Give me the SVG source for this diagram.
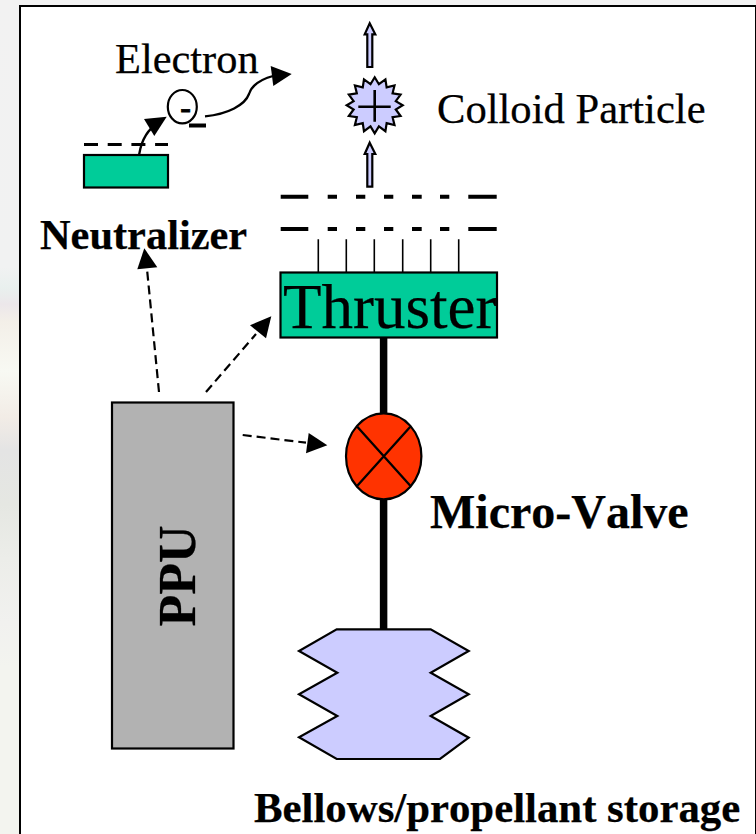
<svg xmlns="http://www.w3.org/2000/svg" width="756" height="834" viewBox="0 0 756 834">
<style>
.t{font-family:"Liberation Serif","Times New Roman",serif;fill:#000;font-kerning:none;stroke:#000;stroke-width:.25}
.b{font-weight:bold}
.dash{fill:none;stroke:#000;stroke-width:2.2;stroke-dasharray:9 5}
.solid{fill:none;stroke:#000;stroke-width:2.3}
.head{fill:#000;stroke:none}
.green{fill:#00cc99;stroke:#000;stroke-width:2.2}
.lav{fill:#ccccff;stroke:#000;stroke-width:2.2}
.bar{stroke:#000;stroke-width:4;fill:none}
.stem{stroke:#000;stroke-width:7.5;fill:none}
</style>
<defs>
<linearGradient id="strip" gradientUnits="userSpaceOnUse" x1="0" y1="0" x2="0" y2="834">
<stop offset="0" stop-color="#f2f2f2"/>
<stop offset=".32" stop-color="#f1f2f2"/>
<stop offset=".345" stop-color="#e9f0ee"/>
<stop offset=".365" stop-color="#ece7ea"/>
<stop offset=".385" stop-color="#f3efe8"/>
<stop offset=".445" stop-color="#f8f9f3"/>
<stop offset=".5" stop-color="#f2ece6"/>
<stop offset=".54" stop-color="#e4e4e4"/>
<stop offset=".605" stop-color="#e5e7e2"/>
<stop offset=".67" stop-color="#ecede9"/>
<stop offset=".745" stop-color="#f1f1ef"/>
<stop offset=".8" stop-color="#f3f4ef"/>
<stop offset="1" stop-color="#f3f4ef"/>
</linearGradient>
</defs>
<rect id="background" width="756" height="834" fill="#f2f2f2"/>
<rect id="left-strip" width="20" height="834" fill="url(#strip)"/>
<rect id="panel" x="20" y="6" width="735" height="828" fill="#fff"/>
<path id="frame" d="M20 834V6H756" fill="none" stroke="#000" stroke-width="2"/>
<path id="frame-right" d="M755.5 6V834" fill="none" stroke="#000" stroke-width="1"/>

<g id="connectors">
<path class="stem" d="M383.6 338V413M383.6 500V630"/>
<path class="solid" d="M138.5 160C140 142 146 132 155 125"/>
<polygon class="head" points="166.7,116.7 144,119 154.3,136"/>
<path class="solid" d="M205 116.3C228 114 245 105 249 94C252 85 262 79 273 76"/>
<polygon class="head" points="291.7,74 270.7,66 273.3,86"/>
<path class="dash" d="M159 392L147 269"/>
<polygon class="head" points="144.3,248.3 137.3,269.3 157.3,267.3"/>
<path class="dash" d="M206 392L256 334"/>
<polygon class="head" points="271.3,316.3 250,325.3 266,338.3"/>
<path class="dash" d="M242.7 435L306 442.7"/>
<polygon class="head" points="327.3,445.3 308.7,433 306,453.3"/>
</g>

<g id="neutralizer">
<rect class="green" x="84" y="155" width="84" height="32.5"/>
<path d="M84 144.5H168" fill="none" stroke="#000" stroke-width="3" stroke-dasharray="14 9.7"/>
<text class="t b" x="40" y="248.5" font-size="42.4">Neutralizer</text>
</g>

<g id="electron">
<ellipse cx="182.3" cy="106.7" rx="14.5" ry="16.7" fill="#fff" stroke="#000" stroke-width="2.2"/>
<text x="180.2" y="118" font-size="32" font-weight="bold" font-family="Liberation Serif, serif" stroke="#000" stroke-width=".8">-</text>
<path class="bar" d="M189 125.5H206"/>
<text class="t" x="115" y="73" font-size="42.4">Electron</text>
</g>

<g id="colloid-particle">
<polygon class="lav" transform="translate(374.7 105.3)" points="0,-28 4.19,-21.09 10.72,-25.87 11.95,-17.87 19.8,-19.8 17.87,-11.95 25.87,-10.72 21.09,-4.19 28,0 21.09,4.19 25.87,10.72 17.87,11.95 19.8,19.8 11.95,17.87 10.72,25.87 4.19,21.09 0,28 -4.19,21.09 -10.72,25.87 -11.95,17.87 -19.8,19.8 -17.87,11.95 -25.87,10.72 -21.09,4.19 -28,0 -21.09,-4.19 -25.87,-10.72 -17.87,-11.95 -19.8,-19.8 -11.95,-17.87 -10.72,-25.87 -4.19,-21.09"/>
<path d="M358.3 106.7H390.7M374.7 90V121.7" fill="none" stroke="#000" stroke-width="2.6"/>
<text class="t" x="437" y="123" font-size="42.6">Colloid Particle</text>
<polygon class="lav" points="369.7,23.3 375.3,34.3 372.3,34.3 372.3,67 367.3,67 367.3,34.3 364.7,34.3"/>
<polygon class="lav" points="369.7,142.7 375.3,154 372.3,154 372.3,186.7 367.3,186.7 367.3,154 364.7,154"/>
</g>

<g id="grids">
<path class="bar" d="M280.7 196.7H308.3M327.7 196.7H337M356 196.7H365.3M384 196.7H393.3M412 196.7H421.7M440 196.7H449.3M468.3 196.7H496.7"/>
<path class="bar" d="M280.7 229H308.3M327.7 229H337M356 229H365.3M384 229H393.3M412 229H421.7M440 229H449.3M468.3 229H496.7"/>
<path d="M318.3 239.3V272M346.3 239.3V272M374.3 239.3V272M402.7 239.3V272M430.7 239.3V272M458.7 239.3V272" fill="none" stroke="#000" stroke-width="1.6"/>
</g>

<g id="thruster">
<rect class="green" x="280.5" y="272.5" width="216.5" height="65"/>
<text class="t" x="283" y="328" font-size="63">Thruster</text>
</g>

<g id="ppu">
<rect x="112" y="402.5" width="121.5" height="346" fill="#b2b2b2" stroke="#000" stroke-width="2.2"/>
<text class="t b" transform="translate(194.5 626.5) rotate(-90)" font-size="52">PPU</text>
</g>

<g id="micro-valve">
<ellipse cx="383.7" cy="456.3" rx="37.7" ry="43" fill="#ff3300" stroke="#000" stroke-width="2.2"/>
<path class="solid" d="M357.3 426.7L410.3 485.7M410.3 426.7L357.3 485.7"/>
<text class="t b" x="430" y="528" font-size="48">Micro-Valve</text>
</g>

<g id="bellows">
<polygon class="lav" points="336.7,629.3 430.7,629.3 468.7,651 430.7,672.7 468.7,694.3 430.7,716 468.7,737.7 440,759 336.7,759 299,737.3 337.3,716 299,694.3 337.3,672.7 299,651"/>
<text class="t b" x="254" y="822" font-size="42.8">Bellows/propellant storage</text>
</g>
</svg>
